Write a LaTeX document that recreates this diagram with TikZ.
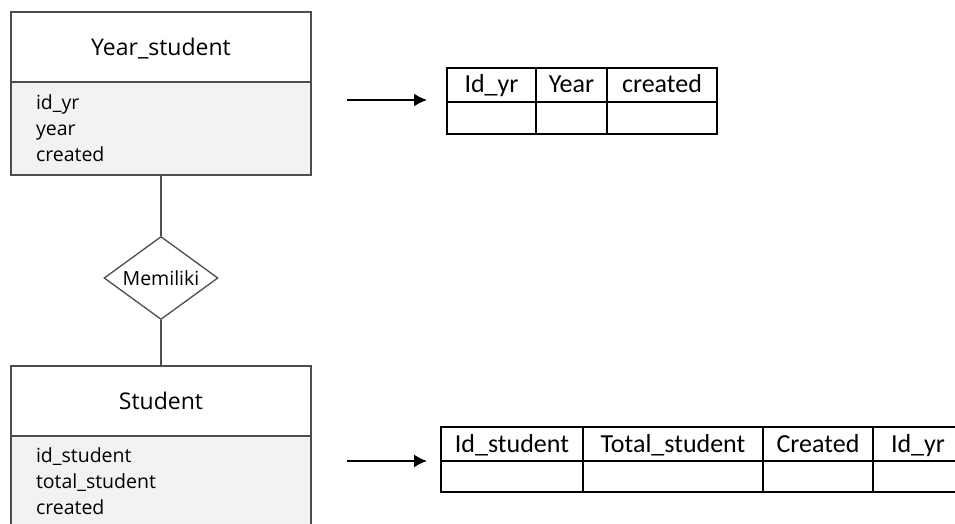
\documentclass[tikz,border=0pt]{standalone}
\usepackage{fontspec}
\usetikzlibrary{shapes,arrows.meta,positioning}
\newfontfamily\erfont{Open Sans}
\newfontfamily\tabfont{Carlito}
\definecolor{erline}{HTML}{4D4D4D}
\definecolor{erfill}{HTML}{F2F2F2}
\tikzstyle{enthead} = [rectangle, draw=erline, fill=white, line width=1.6pt, minimum width=300pt, minimum height=70pt, inner sep=0pt, outer sep=0pt, text height=16.4pt, text depth=0pt, font=\erfont\fontsize{23}{28}\selectfont]
\tikzstyle{entbody} = [rectangle, draw=erline, fill=erfill, line width=1.6pt, minimum width=300pt, text width=250pt, inner xsep=25pt, inner ysep=0pt, outer sep=0pt, align=left, font=\erfont\fontsize{19.5}{26}\selectfont]
\tikzstyle{relation} = [diamond, aspect=1.37, draw=erline, fill=white, line width=1.3pt, minimum width=114pt, minimum height=83pt, inner sep=2pt, font=\erfont\fontsize{19.5}{24}\selectfont]
\tikzstyle{cell} = [rectangle, draw=black, line width=1.4pt, minimum height=34pt, inner sep=0pt, outer sep=0pt, text height=17pt, text depth=1pt, font=\tabfont\fontsize{26}{30}\selectfont]
\tikzstyle{erlink} = [draw=erline, line width=1.6pt]
\tikzstyle{arrow} = [line width=1.5pt, -{Latex[length=13pt, width=13pt]}]
\begin{document}
\begin{tikzpicture}[x=1pt, y=-1pt]
    \useasboundingbox (0,0) rectangle (955,524);
    \clip (0,0) rectangle (955,524);
    \fill [white] (0,0) rectangle (955,524);
    % Place nodes
    \node [enthead, anchor=north west] (yshead) at (11,12) {Year\_student};
    \node [entbody, minimum height=93pt, below=0pt of yshead] (ysbody) {id\_yr\\year\\created};
    \node [relation] (memiliki) at (161,278) {Memiliki};
    \node [enthead, anchor=north west] (sthead) at (11,366) {Student};
    \node [entbody, minimum height=90pt, below=0pt of sthead] (stbody) {id\_student\\total\_student\\created};

    % table for Year_student
    \node [cell, minimum width=89pt, anchor=north west] (yrid) at (447,68) {Id\_yr};
    \node [cell, minimum width=71pt, right=0pt of yrid] (yryear) {Year};
    \node [cell, minimum width=110pt, right=0pt of yryear] (yrcreated) {created};
    \node [cell, minimum width=89pt, minimum height=32pt, below=0pt of yrid] (yrid2) {};
    \node [cell, minimum width=71pt, minimum height=32pt, below=0pt of yryear] (yryear2) {};
    \node [cell, minimum width=110pt, minimum height=32pt, below=0pt of yrcreated] (yrcreated2) {};

    % table for Student
    \node [cell, minimum width=142pt, anchor=north west] (stid) at (441,427) {Id\_student};
    \node [cell, minimum width=180pt, right=0pt of stid] (sttotal) {Total\_student};
    \node [cell, minimum width=110pt, right=0pt of sttotal] (stcreated) {Created};
    \node [cell, minimum width=90pt, right=0pt of stcreated] (styr) {Id\_yr};
    \node [cell, minimum width=142pt, minimum height=31pt, below=0pt of stid] (stid2) {};
    \node [cell, minimum width=180pt, minimum height=31pt, below=0pt of sttotal] (sttotal2) {};
    \node [cell, minimum width=110pt, minimum height=31pt, below=0pt of stcreated] (stcreated2) {};
    \node [cell, minimum width=90pt, minimum height=31pt, below=0pt of styr] (styr2) {};

    \coordinate (yrarrow) at (347,100);
    \coordinate (starrow) at (347,461);

    \draw [erlink] (ysbody) -- (memiliki);
    \draw [erlink] (memiliki) -- (sthead);
    \draw [arrow, shorten >=20pt] (yrarrow) -- (yrarrow -| yrid.west);
    \draw [arrow, shorten >=14pt] (starrow) -- (starrow -| stid.west);
\end{tikzpicture}
\end{document}
